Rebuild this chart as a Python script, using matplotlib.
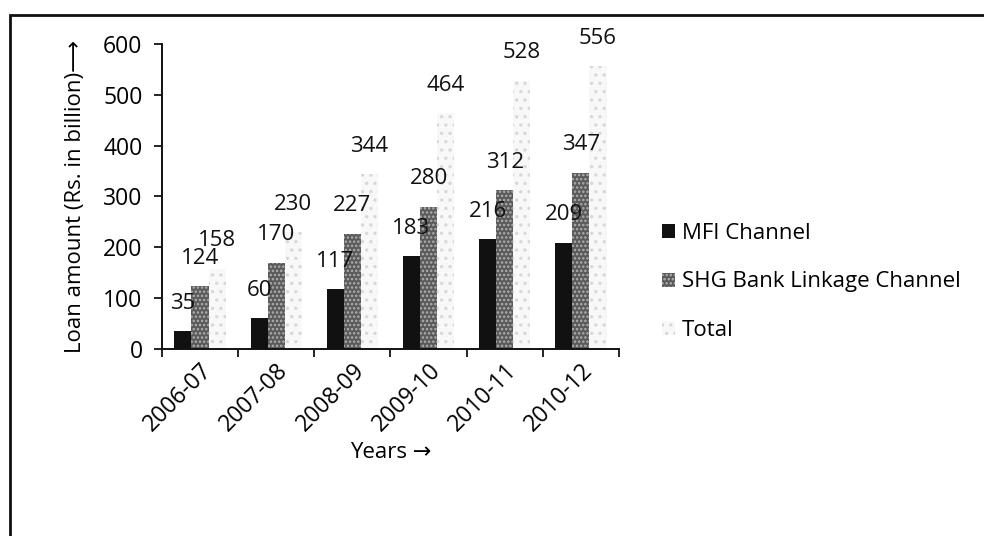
import matplotlib
matplotlib.use("Agg")
import matplotlib.pyplot as plt
import numpy as np
from matplotlib.patches import Rectangle

plt.rcParams['font.family'] = ['Open Sans', 'DejaVu Sans']

years = ["2006-07", "2007-08", "2008-09", "2009-10", "2010-11", "2010-12"]
mfi = [35, 60, 117, 183, 216, 209]
shg = [124, 170, 227, 280, 312, 347]
total = [158, 230, 344, 464, 528, 556]
series_names = ["MFI Channel", "SHG Bank Linkage Channel", "Total"]
yticks = [0, 100, 200, 300, 400, 500, 600]

fig = plt.figure(figsize=(9.84, 5.36), dpi=100)
ax = fig.add_axes([0.1646, 0.349, 0.4644, 0.569])

x = np.arange(len(years))
w = 0.225
plt.rcParams['hatch.linewidth'] = 1.2

b1 = ax.bar(x - w, mfi, w, color='#111111', linewidth=0, label=series_names[0])
b2 = ax.bar(x, shg, w, facecolor='#5a5a5a', edgecolor='#b0b0b0', hatch='....',
            linewidth=0, label=series_names[1])
b3 = ax.bar(x + w, total, w, facecolor='#f8f8f8', edgecolor='#d8d8d8', hatch='..',
            linewidth=0, label=series_names[2])

for bars, vals in ((b1, mfi), (b2, shg), (b3, total)):
    for rect, v in zip(bars, vals):
        ax.annotate(str(v), (rect.get_x() + rect.get_width() / 2, v),
                    xytext=(0, 20), textcoords='offset points',
                    ha='center', va='center', fontsize=16, color='#111111',
                    annotation_clip=False)

ax.set_xlim(-0.5, len(years) - 0.5)
ax.set_ylim(0, 600)
ax.set_yticks(yticks)
ax.set_yticklabels([str(t) for t in yticks], fontsize=16.5)
ax.set_xticks(np.arange(len(years) + 1) - 0.5, minor=False)
ax.set_xticklabels([])
ax.set_xticks(x, minor=True)
ax.set_xticklabels(years, minor=True, rotation=45, ha='right', va='top',
                   rotation_mode='anchor', fontsize=16.5)
ax.tick_params(axis='x', which='minor', length=0, pad=7)
ax.tick_params(axis='x', which='major', length=6, direction='out', width=1.2)
ax.tick_params(axis='y', length=6, direction='out', width=1.2, pad=8)

for s in ('top', 'right'):
    ax.spines[s].set_visible(False)
for s in ('left', 'bottom'):
    ax.spines[s].set_linewidth(1.4)
    ax.spines[s].set_color('#111111')

ax.set_ylabel("Loan amount (Rs. in billion)\u27f6", fontsize=16, labelpad=12)
ax.set_xlabel("Years \u2192", fontsize=16, labelpad=4)

leg = ax.legend(loc='center left', bbox_to_anchor=(0.652, 0.4739),
                bbox_transform=fig.transFigure, frameon=False, fontsize=16,
                handlelength=0.6, handleheight=0.6, handletextpad=0.3,
                labelspacing=1.25)

# outer frame
fig.patches.append(Rectangle((10 / 984, -0.1), 1.2, 1 - 15 / 536 + 0.1,
                             transform=fig.transFigure, fill=False,
                             edgecolor='#111111', linewidth=2))

fig.savefig("out.png", dpi=100)
